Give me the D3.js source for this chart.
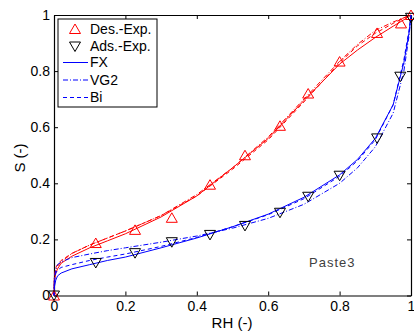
<!DOCTYPE html>
<html>
<head>
<meta charset="utf-8">
<script src="https://d3js.org/d3.v7.min.js"></script>
<style>
  body { margin: 0; background: #fff; }
  text { font-family: "Liberation Sans", Arial, sans-serif; }
</style>
</head>
<body>
<div id="chart"></div>
<script>
// experimental points
const rhDes = [0, 0.117, 0.227, 0.33, 0.437, 0.535, 0.633, 0.712, 0.80, 0.905, 0.972, 1.0];
const sDes  = [0, 0.187, 0.234, 0.277, 0.395, 0.50, 0.605, 0.72, 0.834, 0.936, 0.97, 1.0];
const rhAds = [0, 0.117, 0.227, 0.33, 0.437, 0.535, 0.633, 0.712, 0.80, 0.905, 0.97, 1.0];
const sAds  = [0, 0.116, 0.151, 0.19, 0.216, 0.248, 0.295, 0.352, 0.427, 0.56, 0.78, 0.99];

// model curves, sampled at rhGrid
const rhGrid = [0, 0.001, 0.005, 0.01, 0.02, 0.05, 0.1, 0.15, 0.2, 0.3, 0.4, 0.5, 0.6, 0.7, 0.8, 0.85, 0.9, 0.95, 0.98, 0.995, 1];
const desFX  = [0, 0.05, 0.08, 0.095, 0.115, 0.14, 0.17, 0.195, 0.22, 0.28, 0.355, 0.455, 0.56, 0.695, 0.825, 0.875, 0.92, 0.96, 0.983, 0.995, 1];
const desVG2 = [0, 0.06, 0.09, 0.105, 0.12, 0.15, 0.18, 0.205, 0.23, 0.285, 0.36, 0.455, 0.565, 0.70, 0.835, 0.895, 0.945, 0.975, 0.99, 0.998, 1];
const desBi  = [0, 0.07, 0.10, 0.11, 0.125, 0.15, 0.18, 0.205, 0.23, 0.285, 0.355, 0.45, 0.555, 0.69, 0.83, 0.89, 0.935, 0.97, 0.99, 0.998, 1];
const adsFX  = [0, 0.03, 0.055, 0.07, 0.08, 0.095, 0.11, 0.125, 0.137, 0.17, 0.205, 0.245, 0.29, 0.35, 0.43, 0.485, 0.56, 0.68, 0.83, 0.94, 1];
const adsVG2 = [0, 0.06, 0.095, 0.11, 0.12, 0.135, 0.148, 0.16, 0.17, 0.19, 0.212, 0.24, 0.275, 0.325, 0.40, 0.455, 0.53, 0.65, 0.80, 0.93, 1];
const adsBi  = [0, 0.05, 0.08, 0.09, 0.10, 0.11, 0.125, 0.137, 0.148, 0.175, 0.207, 0.245, 0.288, 0.345, 0.425, 0.48, 0.555, 0.68, 0.84, 0.95, 1];

const ticks = [0, 0.2, 0.4, 0.6, 0.8, 1];

let W = 414, H = 333;
let svg = d3.select("#chart").append("svg")
  .attr("width", W)
  .attr("height", H);

const x = d3.scaleLinear().domain([0, 1]).range([54, 411]);
const y = d3.scaleLinear().domain([0, 1]).range([295.5, 15]);
const fmt = d3.format("~g");

// axes (MATLAB style box, ticks pointing in)
svg.append("g").attr("transform", "translate(0,295.5)")
  .call(d3.axisBottom(x).tickValues(ticks).tickFormat(fmt).tickSizeInner(-4).tickSizeOuter(0).tickPadding(6));
svg.append("g").attr("transform", "translate(0,15)")
  .call(d3.axisTop(x).tickValues(ticks).tickFormat("").tickSizeInner(-4).tickSizeOuter(0));
svg.append("g").attr("transform", "translate(54,0)")
  .call(d3.axisLeft(y).tickValues(ticks).tickFormat(fmt).tickSizeInner(-4).tickSizeOuter(0).tickPadding(4));
svg.append("g").attr("transform", "translate(411,0)")
  .call(d3.axisRight(y).tickValues(ticks).tickFormat("").tickSizeInner(-4).tickSizeOuter(0));

svg.selectAll(".domain").attr("stroke", "#000").attr("stroke-width", 1.2);
svg.selectAll(".tick line").attr("stroke", "#000");
svg.selectAll(".tick text").attr("font-size", 14).attr("fill", "#000")
  .style("font-family", "'Liberation Sans', Arial, sans-serif");

// axis titles
svg.append("text").attr("x", 232).attr("y", 328)
  .attr("text-anchor", "middle").attr("font-size", 15).text("RH (-)");
svg.append("text").attr("transform", "translate(25,158) rotate(-90)")
  .attr("text-anchor", "middle").attr("font-size", 15).text("S (-)");

svg.append("text").attr("x", 309).attr("y", 267)
  .attr("font-size", 13).attr("letter-spacing", 1).attr("fill", "#404040").text("Paste3");

// curves
const line = d3.line().x(d => x(d[0])).y(d => y(d[1]));
const styles = { FX: null, VG2: "5,2,1,2", Bi: "4,3" };
const curves = [
  { s: desFX, c: "#ff0000", k: "FX" }, { s: desVG2, c: "#ff0000", k: "VG2" }, { s: desBi, c: "#ff0000", k: "Bi" },
  { s: adsFX, c: "#0000ff", k: "FX" }, { s: adsVG2, c: "#0000ff", k: "VG2" }, { s: adsBi, c: "#0000ff", k: "Bi" }
];
curves.forEach(cv => {
  svg.append("path")
    .datum(rhGrid.map((r, i) => [r, cv.s[i]]))
    .attr("d", line)
    .attr("fill", "none")
    .attr("stroke", cv.c)
    .attr("stroke-width", 1)
    .attr("stroke-dasharray", styles[cv.k]);
});

// markers
const triUp = "M0,-5L5.5,4.5L-5.5,4.5Z";
const triDown = "M0,5L5.5,-4.5L-5.5,-4.5Z";
svg.selectAll(".des").data(rhDes).enter().append("path")
  .attr("d", triUp)
  .attr("transform", (d, i) => "translate(" + x(d) + "," + y(sDes[i]) + ")")
  .attr("fill", "none").attr("stroke", "#ff0000");
svg.selectAll(".ads").data(rhAds).enter().append("path")
  .attr("d", triDown)
  .attr("transform", (d, i) => "translate(" + x(d) + "," + y(sAds[i]) + ")")
  .attr("fill", "none").attr("stroke", "#000");

// legend
let lg = svg.append("g");
lg.append("rect").attr("x", 58).attr("y", 19).attr("width", 99).attr("height", 88)
  .attr("fill", "#fff").attr("stroke", "#000");
const legendItems = [
  { t: "Des.-Exp.", y: 29, m: triUp, c: "#ff0000" },
  { t: "Ads.-Exp.", y: 46.5, m: triDown, c: "#000" },
  { t: "FX", y: 62.5, dash: styles.FX, c: "#0000ff" },
  { t: "VG2", y: 80, dash: styles.VG2, c: "#0000ff" },
  { t: "Bi", y: 97.5, dash: styles.Bi, c: "#0000ff" }
];
legendItems.forEach(it => {
  if (it.m) {
    lg.append("path").attr("d", it.m).attr("transform", "translate(75," + it.y + ")")
      .attr("fill", "none").attr("stroke", it.c);
  } else {
    lg.append("line").attr("x1", 63).attr("x2", 88).attr("y1", it.y).attr("y2", it.y)
      .attr("stroke", it.c).attr("stroke-dasharray", it.dash);
  }
  lg.append("text").attr("x", 90).attr("y", it.y).attr("dy", "0.35em")
    .attr("font-size", 14).text(it.t);
});
</script>
</body>
</html>
